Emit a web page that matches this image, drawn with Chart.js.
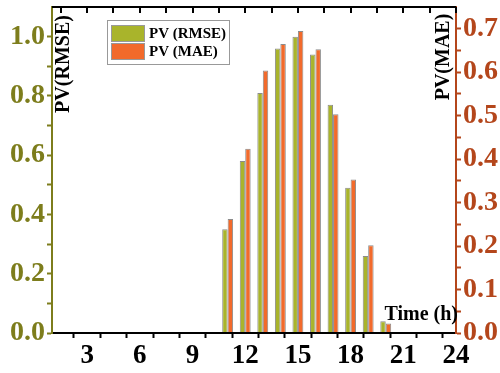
<!DOCTYPE html>
<html>
<head>
<meta charset="utf-8">
<script src="https://cdn.jsdelivr.net/npm/chart.js@4.4.0/dist/chart.umd.min.js"></script>
<style>
html, body { margin: 0; padding: 0; background: #fff; }
#wrap { width: 500px; height: 373px; }
</style>
</head>
<body>
<div id="wrap"><canvas id="myChart"></canvas></div>
<script>
// hourly values
var hours = [1, 2, 3, 4, 5, 6, 7, 8, 9, 10, 11, 12, 13, 14, 15, 16, 17, 18, 19, 20, 21, 22, 23, 24];
var rmse = [0, 0, 0, 0, 0, 0, 0, 0, 0, 0, 0.35, 0.58, 0.81, 0.96, 1.00, 0.94, 0.77, 0.49, 0.26, 0.04, 0, 0, 0, 0];
var mae = [0, 0, 0, 0, 0, 0, 0, 0, 0, 0, 0.262, 0.424, 0.604, 0.665, 0.695, 0.653, 0.503, 0.353, 0.202, 0.022, 0, 0, 0, 0];

var xTicks = [3, 6, 9, 12, 15, 18, 21, 24];
var leftTicks = [0, 0.2, 0.4, 0.6, 0.8, 1.0];
var rightTicks = [0, 0.1, 0.2, 0.3, 0.4, 0.5, 0.6, 0.7];

var serif = "'Liberation Serif', 'Times New Roman', serif";
var olive = '#7d7d1c';
var rust = '#b4461b';
var green = '#a9b42b';
var orange = '#f26a2b';

// majors plus a minor tick half way between each pair
function withMinor(major) {
    var out = [];
    for (var i = 0; i < major.length; i++) {
        if (i > 0) out.push((major[i - 1] + major[i]) / 2);
        out.push(major[i]);
    }
    return out;
}
function isMajor(list, v) {
    return list.some(function (m) { return Math.abs(m - v) < 1e-6; });
}
var xAll = [1.5].concat(withMinor(xTicks));

function pts(arr) {
    return hours.map(function (h, i) { return { x: h, y: arr[i] }; });
}
function noPad(s) {
    s.paddingTop = 0;
    s.paddingBottom = 0;
    s.paddingLeft = 0;
    s.paddingRight = 0;
}

var frame = {
    id: 'frame',
    afterDraw: function (chart) {
        var ctx = chart.ctx, a = chart.chartArea, xs = chart.scales.x;
        ctx.save();
        // top border with inward ticks
        ctx.strokeStyle = '#000';
        ctx.lineWidth = 2;
        ctx.beginPath();
        ctx.moveTo(a.left, a.top);
        ctx.lineTo(a.right, a.top);
        xAll.forEach(function (v) {
            var px = Math.round(xs.getPixelForValue(v));
            ctx.moveTo(px, a.top);
            ctx.lineTo(px, a.top + 6);
        });
        ctx.stroke();

        // axis titles inside the plot
        ctx.fillStyle = '#000';
        ctx.font = 'bold 20px ' + serif;
        ctx.textAlign = 'center';
        ctx.textBaseline = 'middle';
        ctx.save();
        ctx.translate(a.left + 12, a.top + 57);
        ctx.rotate(-Math.PI / 2);
        ctx.fillText('PV(RMSE)', 0, 0);
        ctx.restore();
        ctx.save();
        ctx.translate(a.right - 12, a.top + 50);
        ctx.rotate(-Math.PI / 2);
        ctx.fillText('PV(MAE)', 0, 0);
        ctx.restore();
        ctx.textAlign = 'right';
        ctx.fillText('Time (h)', a.right + 2, a.bottom - 18);

        // legend box
        var lx = a.left + 55, ly = a.top + 13;
        ctx.strokeStyle = '#999';
        ctx.lineWidth = 1;
        ctx.strokeRect(lx + 0.5, ly + 0.5, 122, 44);
        chart.data.datasets.forEach(function (ds, i) {
            var sy = ly + 5 + i * 18;
            ctx.fillStyle = ds.backgroundColor;
            ctx.fillRect(lx + 4, sy, 34, 17);
            ctx.strokeStyle = '#999';
            ctx.strokeRect(lx + 4.5, sy + 0.5, 33, 16);
            ctx.fillStyle = '#000';
            ctx.font = 'bold 15px ' + serif;
            ctx.textAlign = 'left';
            ctx.fillText(ds.label, lx + 42, sy + 9);
        });
        ctx.restore();
    }
};

var ctx = document.getElementById('myChart').getContext('2d');
var myChart = new Chart(ctx, {
    type: 'bar',
    data: {
        datasets: [{
            label: 'PV (RMSE)',
            data: pts(rmse),
            yAxisID: 'y',
            backgroundColor: green,
            borderColor: '#8c8c8c',
            borderWidth: 1
        }, {
            label: 'PV (MAE)',
            data: pts(mae),
            yAxisID: 'y1',
            backgroundColor: orange,
            borderColor: '#8c8c8c',
            borderWidth: 1
        }]
    },
    options: {
        responsive: true,
        maintainAspectRatio: false,
        animation: false,
        layout: { padding: { top: 7, right: 0, left: 0, bottom: 0 } },
        categoryPercentage: 0.62,
        barPercentage: 1,
        plugins: { legend: { display: false }, tooltip: { enabled: false } },
        scales: {
            x: {
                type: 'linear',
                min: 1,
                max: 24,
                offset: false,
                afterBuildTicks: function (s) { s.ticks = xAll.map(function (v) { return { value: v }; }); },
                afterFit: function (s) { s.height = 40; noPad(s); },
                grid: { drawOnChartArea: false, tickLength: 5, tickWidth: 2, tickColor: '#000' },
                border: { color: '#000', width: 2, z: 1 },
                ticks: {
                    autoSkip: false,
                    maxRotation: 0,
                    padding: 2,
                    color: '#000',
                    font: { family: serif, size: 27, weight: 'bold' },
                    callback: function (v) { return isMajor(xTicks, v) ? String(v) : ''; }
                }
            },
            y: {
                position: 'left',
                min: 0,
                max: 1.1,
                afterBuildTicks: function (s) { s.ticks = withMinor(leftTicks).map(function (v) { return { value: v }; }); },
                afterFit: function (s) { s.width = 52; noPad(s); },
                grid: { drawOnChartArea: false, tickLength: 5, tickWidth: 2, tickColor: olive },
                border: { color: olive, width: 2, z: 1 },
                ticks: {
                    autoSkip: false,
                    padding: 2,
                    color: olive,
                    font: { family: serif, size: 28, weight: 'bold' },
                    callback: function (v) { return isMajor(leftTicks, v) ? v.toFixed(1) : ''; }
                }
            },
            y1: {
                position: 'right',
                min: 0,
                max: 0.75,
                afterBuildTicks: function (s) { s.ticks = withMinor(rightTicks).map(function (v) { return { value: v }; }); },
                afterFit: function (s) { s.width = 44; noPad(s); },
                grid: { drawOnChartArea: false, tickLength: 5, tickWidth: 2, tickColor: rust },
                border: { color: rust, width: 2, z: 1 },
                ticks: {
                    autoSkip: false,
                    padding: 2,
                    color: rust,
                    font: { family: serif, size: 28, weight: 'bold' },
                    callback: function (v) { return isMajor(rightTicks, v) ? v.toFixed(1) : ''; }
                }
            }
        }
    },
    plugins: [frame]
});
</script>
</body>
</html>
